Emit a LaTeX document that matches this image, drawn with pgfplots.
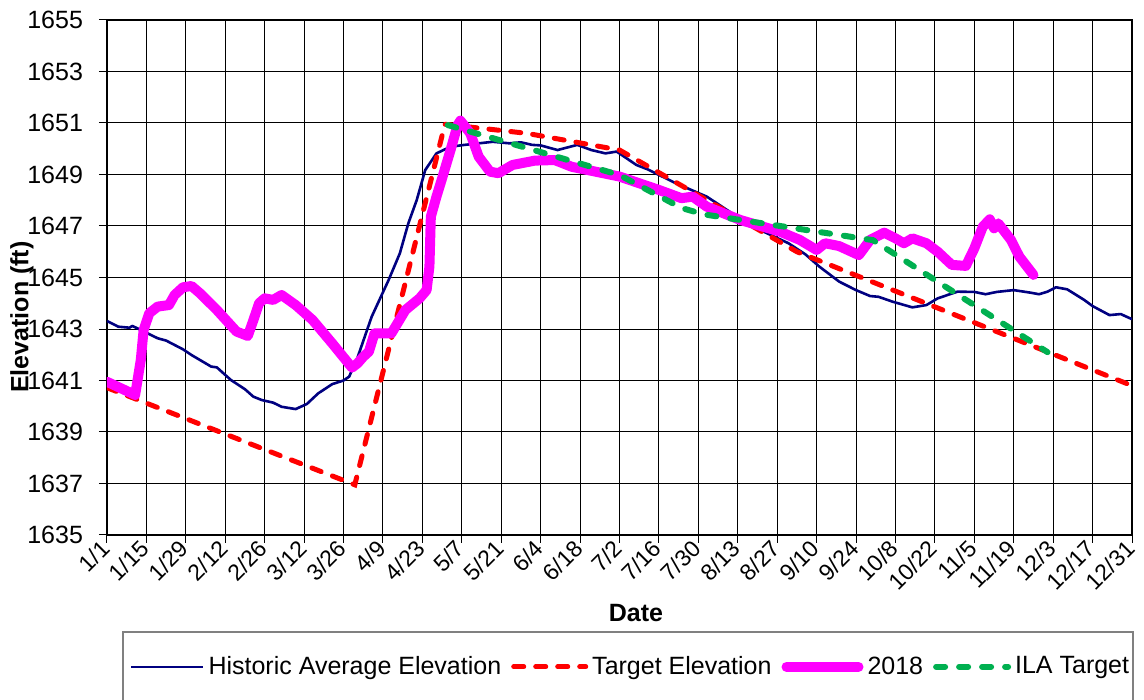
\documentclass[border=0pt]{standalone}
\usepackage{fontspec}
\setmainfont{Liberation Sans}
\usepackage{pgfplots}
\pgfplotsset{compat=1.18}

\definecolor{histblue}{RGB}{0,0,128}
\definecolor{tgtred}{RGB}{255,0,0}
\definecolor{mag}{RGB}{255,0,255}
\definecolor{ilagreen}{RGB}{0,176,80}

\newcommand{\lblfont}{\fontsize{12.5}{15}\selectfont}
\newcommand{\xlblfont}{\fontsize{11.5}{13}\selectfont}

\begin{document}
\begin{tikzpicture}
\begin{axis}[
  scale only axis,
  width=512.5pt, height=257.5pt,
  xmin=1, xmax=365, ymin=1635, ymax=1655,
  xtick={1,15,...,365},
  xticklabels={1/1,1/15,1/29,2/12,2/26,3/12,3/26,4/9,4/23,5/7,5/21,6/4,6/18,7/2,7/16,7/30,8/13,8/27,9/10,9/24,10/8,10/22,11/5,11/19,12/3,12/17,12/31},
  ytick={1635,1637,...,1655},
  minor y tick num=3,
  xtick pos=bottom, ytick pos=left,
  xmajorgrids, ymajorgrids,
  grid style={black, line width=0.5pt},
  axis line style={line width=1pt},
  tick align=outside,
  major tick length=4pt,
  minor tick length=2.5pt,
  tick style={black, line width=0.5pt},
  minor y tick style={xshift=2.5pt},
  /pgf/number format/.cd, 1000 sep={}, assume math mode=true, /pgfplots/.cd,
  yticklabel style={font=\lblfont, xshift=-4.5pt},
  xticklabel style={font=\xlblfont, rotate=45, anchor=east, inner sep=1pt},
  xlabel={\textbf{Date}},
  ylabel={\textbf{Elevation (ft)}},
  label style={font=\lblfont},
  xlabel style={at={(axis description cs:0.516,-0.151)}, anchor=center},
  ylabel style={at={(axis description cs:-0.083,0.423)}, anchor=center},
  legend columns=4,
  legend cell align=left,
  legend image code/.code={\draw[#1] (0pt,0pt) -- (36pt,0pt);},
  legend style={at={(axis description cs:0.5117,-0.256)}, anchor=center,
    draw=none, fill=none, font=\lblfont,
    /tikz/every even column/.append style={column sep=3pt}},
]

% historic average elevation
\addplot[histblue, line width=1.3pt, line join=round] coordinates {
(1,1643.31) (5,1643.09) (9,1643.05) (10,1643.12) (13,1642.96) (19,1642.64)
(22,1642.55) (28,1642.21) (31,1641.99) (38,1641.54) (40,1641.51) (45,1641.02)
(50,1640.66) (53,1640.37) (56,1640.24) (60,1640.14) (63,1639.98) (68,1639.89)
(72,1640.09) (76,1640.50) (81,1640.86) (85,1641.0) (87,1641.15) (90,1641.9)
(95,1643.48) (101,1644.90) (105,1645.94) (108,1647.10) (111,1648.01) (114,1649.17)
(118,1649.82) (123,1650.08) (128,1650.15) (133,1650.21) (138,1650.27) (144,1650.21)
(148,1650.25) (152,1650.15) (155,1650.13) (161,1649.95) (168,1650.15) (173,1649.95)
(178,1649.82) (182,1649.89) (189,1649.37) (193,1649.20) (203,1648.66) (214,1648.14)
(223,1647.49) (233,1646.84) (243,1646.33) (249,1645.9) (254,1645.42) (261,1644.84)
(267,1644.51) (272,1644.28) (275,1644.25) (280,1644.06) (287,1643.84) (292,1643.93)
(296,1644.19) (303,1644.45) (309,1644.44) (313,1644.35) (317,1644.44) (323,1644.51)
(329,1644.41) (332,1644.35) (335,1644.45) (338,1644.62) (342,1644.54) (348,1644.13)
(351,1643.89) (357,1643.54) (361,1643.58) (365,1643.38)
};
\addlegendentry{Historic Average Elevation}

% target elevation
\addplot[tgtred, line width=2.5pt, line cap=round, dash pattern=on 5pt off 6pt] coordinates {
(1,1640.72) (89,1636.95) (121,1650.95) (150,1650.6) (183,1649.95) (246,1646.0) (365,1640.8)
};
\addlegendentry{Target Elevation}

% 2018
\addplot[mag, line width=5pt, line join=round, line cap=round] coordinates {
(1,1640.95) (11,1640.44) (13,1641.8) (14,1642.96) (16,1643.61) (19,1643.87)
(23,1643.93) (25,1644.32) (28,1644.62) (31,1644.67) (34,1644.39) (40,1643.74)
(47,1642.90) (51,1642.73) (53,1643.35) (55,1644.0) (57,1644.19) (60,1644.13)
(63,1644.32) (68,1643.93) (74,1643.35) (81,1642.44) (88,1641.5) (90,1641.67)
(92,1641.92) (94,1642.12) (96,1642.83) (102,1642.83) (107,1643.74) (112,1644.19)
(114.5,1644.51) (115.5,1645.42) (116,1647.36) (118,1648.14) (120,1648.85) (123,1649.95)
(125.5,1650.92) (126.5,1651.09) (130,1650.6) (133,1649.69) (137,1649.11) (140,1649.05)
(145,1649.37) (153,1649.54) (160,1649.56) (166,1649.30) (183,1648.92) (197,1648.40)
(205,1648.08) (209,1648.14) (214,1647.75) (226,1647.23) (240,1646.78) (247,1646.46)
(253,1646.07) (256,1646.33) (261,1646.22) (268,1645.87) (272,1646.46) (277,1646.74)
(281,1646.52) (284,1646.33) (287,1646.52) (292,1646.33) (296,1646.0) (301,1645.49)
(306,1645.45) (309,1646.13) (312,1646.97) (314.5,1647.26) (316,1646.91) (317.5,1647.10)
(322,1646.46) (325,1645.81) (330,1645.10)
};
\addlegendentry{2018}

% ILA target
\addplot[ilagreen, line width=3pt, line cap=round, dash pattern=on 4.5pt off 7pt] coordinates {
(122,1650.92) (183,1648.98) (205,1647.7) (213,1647.45) (273,1646.45) (335,1642.1)
};
\addlegendentry{ILA Target}

\coordinate (sw) at (rel axis cs:0,0);
\coordinate (ne) at (rel axis cs:1,1);
\end{axis}
\draw[black!50, line width=0.6pt] ([shift={(8pt,-48.5pt)}]sw) rectangle ([shift={(0.5pt,-92pt)}]sw -| ne);
\pgfresetboundingbox
\path[use as bounding box] ([shift={(-53.5pt,-82.5pt)}]sw) rectangle ([shift={(6pt,10pt)}]ne);
\end{tikzpicture}
\end{document}
